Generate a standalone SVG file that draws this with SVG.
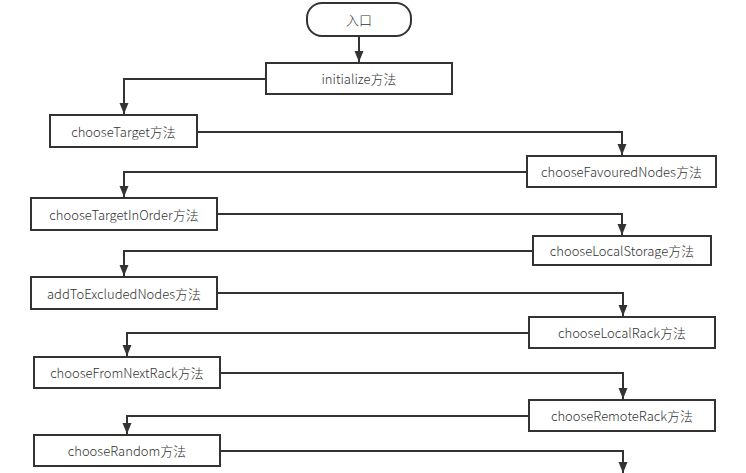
<svg xmlns="http://www.w3.org/2000/svg" width="746" height="473" viewBox="0 0 746 473">
<style>
.box{fill:#fff;stroke:#333;stroke-width:2}
.lbl{font-family:"Noto Sans CJK SC","Noto Sans",sans-serif;font-size:13px;font-weight:300;fill:#333;text-anchor:middle;dominant-baseline:central}
.con{fill:none;stroke:#333;stroke-width:2}
</style>
<defs>
<marker id="ah" markerUnits="userSpaceOnUse" markerWidth="12" markerHeight="10" refX="11" refY="4.5" orient="auto">
<path d="M0,0 L11,4.5 L0,9 z" fill="#333"/>
</marker>
</defs>
<rect x="0" y="0" width="746" height="473" fill="#fff"/>
<g id="connectors">
<path class="con" d="M359,36 V62" marker-end="url(#ah)"/>
<path class="con" d="M266,79 H124 V114" marker-end="url(#ah)"/>
<path class="con" d="M197,132 H622 V155" marker-end="url(#ah)"/>
<path class="con" d="M527,172 H124 V197" marker-end="url(#ah)"/>
<path class="con" d="M217,214 H622 V235" marker-end="url(#ah)"/>
<path class="con" d="M533,251 H124 V276" marker-end="url(#ah)"/>
<path class="con" d="M217,293 H623 V316" marker-end="url(#ah)"/>
<path class="con" d="M529,333 H127 V356" marker-end="url(#ah)"/>
<path class="con" d="M220,373 H623 V399" marker-end="url(#ah)"/>
<path class="con" d="M529,416 H127 V434" marker-end="url(#ah)"/>
<path class="con" d="M220,451 H623 V473" marker-end="url(#ah)"/>
</g>
<g id="entry"><rect class="box" x="307" y="3" width="104" height="33" rx="15"/><text class="lbl" x="359" y="19.5">入口</text></g>
<g id="initialize"><rect class="box" x="266" y="63" width="186" height="31"/><text class="lbl" x="359" y="78.5">initialize方法</text></g>
<g id="chooseTarget"><rect class="box" x="50" y="115" width="147" height="32"/><text class="lbl" x="123.5" y="131">chooseTarget方法</text></g>
<g id="chooseFavouredNodes"><rect class="box" x="527" y="156" width="189" height="31"/><text class="lbl" x="621.5" y="171.5">chooseFavouredNodes方法</text></g>
<g id="chooseTargetInOrder"><rect class="box" x="31" y="198" width="186" height="32"/><text class="lbl" x="124" y="214">chooseTargetInOrder方法</text></g>
<g id="chooseLocalStorage"><rect class="box" x="533" y="236" width="178" height="29"/><text class="lbl" x="622" y="250.5">chooseLocalStorage方法</text></g>
<g id="addToExcludedNodes"><rect class="box" x="31" y="277" width="186" height="32"/><text class="lbl" x="124" y="293">addToExcludedNodes方法</text></g>
<g id="chooseLocalRack"><rect class="box" x="529" y="317" width="186" height="31"/><text class="lbl" x="622" y="332.5">chooseLocalRack方法</text></g>
<g id="chooseFromNextRack"><rect class="box" x="34" y="357" width="186" height="31"/><text class="lbl" x="127" y="372.5">chooseFromNextRack方法</text></g>
<g id="chooseRemoteRack"><rect class="box" x="529" y="400" width="186" height="31"/><text class="lbl" x="622" y="415.5">chooseRemoteRack方法</text></g>
<g id="chooseRandom"><rect class="box" x="34" y="435" width="186" height="31"/><text class="lbl" x="127" y="450.5">chooseRandom方法</text></g>
</svg>
